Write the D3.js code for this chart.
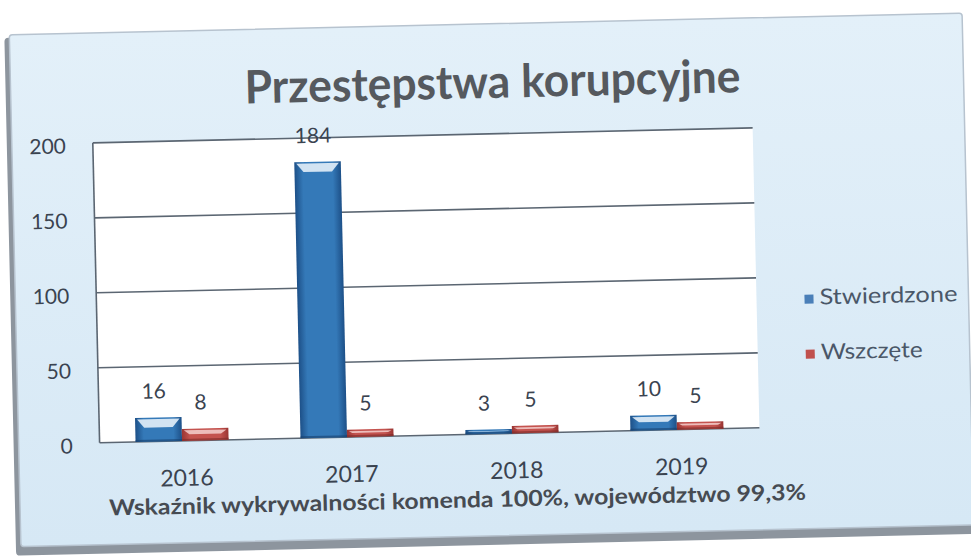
<!DOCTYPE html>
<html>
<head>
<meta charset="utf-8">
<script src="https://cdn.jsdelivr.net/npm/d3@7"></script>
<style>
  body { margin: 0; background: #ffffff; }
  text { font-family: Lato, "Noto Sans", sans-serif; }
</style>
</head>
<body>
<div id="chart"></div>
<script>
// Data
const years = ["2016", "2017", "2018", "2019"];
const stwierdzone = [16, 184, 3, 10];
const wszczete = [8, 5, 5, 5];
const seriesNames = ["Stwierdzone", "Wszczęte"];
const yTicks = [0, 50, 100, 150, 200];
const titleText = "Przestępstwa korupcyjne";
const footText = "Wskaźnik  wykrywalności  komenda 100%, województwo 99,3%";

const W = 971, H = 559;
const plot = {left: 96, right: 756, top: 134, bottom: 434};

const svg = d3.select("#chart")
  .append("svg")
    .attr("width", W)
    .attr("height", H);

const defs = svg.append("defs");

// bar gradients (dark edges, lighter middle)
function barGrad(id, edge, mid) {
  const g = defs.append("linearGradient").attr("id", id)
    .attr("x1", "0%").attr("x2", "100%").attr("y1", "0%").attr("y2", "0%");
  g.append("stop").attr("offset", "0%").attr("stop-color", edge);
  g.append("stop").attr("offset", "18%").attr("stop-color", mid);
  g.append("stop").attr("offset", "82%").attr("stop-color", mid);
  g.append("stop").attr("offset", "100%").attr("stop-color", edge);
}
barGrad("gBlue", "#1d5088", "#3479b8");
barGrad("gRed", "#9a3533", "#c4534f");

const bg = defs.append("linearGradient").attr("id", "gBack")
  .attr("x1", "0%").attr("x2", "0%").attr("y1", "0%").attr("y2", "100%");
bg.append("stop").attr("offset", "0%").attr("stop-color", "#e3f0f9");
bg.append("stop").attr("offset", "100%").attr("stop-color", "#d6e8f5");

// whole scan is slightly tilted
const g = svg.append("g").attr("transform", "rotate(-1.3, 485, 280)");

// frame with bevel shadow
g.append("rect")
  .attr("x", 10).attr("y", 27).attr("width", 958).attr("height", 518)
  .attr("rx", 4).attr("fill", "#8d959e");
g.append("rect")
  .attr("x", 15).attr("y", 24).attr("width", 953).attr("height", 512)
  .attr("rx", 3).attr("fill", "url(#gBack)")
  .attr("stroke", "#b7c3cf").attr("stroke-width", 1.5);

// title
g.append("text")
  .attr("x", 249).attr("y", 98)
  .attr("textLength", 496).attr("lengthAdjust", "spacingAndGlyphs")
  .attr("font-size", 46).attr("font-weight", "bold")
  .attr("fill", "#55595e")
  .text(titleText);

// scales
const x0 = d3.scaleBand()
  .domain(years)
  .range([plot.left, plot.right])
  .paddingInner(0.436)
  .paddingOuter(0.218);

const x1 = d3.scaleBand()
  .domain(seriesNames)
  .range([0, x0.bandwidth()]);

const y = d3.scaleLinear()
  .domain([0, 200])
  .range([plot.bottom, plot.top]);

// plot area
g.append("rect")
  .attr("x", plot.left).attr("y", plot.top)
  .attr("width", plot.right - plot.left).attr("height", plot.bottom - plot.top)
  .attr("fill", "#ffffff");

// gridlines
g.append("g")
  .selectAll("line")
  .data(yTicks)
  .join("line")
    .attr("x1", plot.left).attr("x2", plot.right)
    .attr("y1", d => y(d)).attr("y2", d => y(d))
    .attr("stroke", "#5b6672").attr("stroke-width", 1.6);

g.append("line")
  .attr("x1", plot.left).attr("x2", plot.left)
  .attr("y1", plot.top).attr("y2", plot.bottom)
  .attr("stroke", "#5b6672").attr("stroke-width", 1.6);

// y axis labels
const yAxis = g.append("g")
  .attr("transform", `translate(${plot.left - 27},0)`)
  .call(d3.axisLeft(y).tickValues(yTicks).tickSize(0).tickPadding(0));
yAxis.select(".domain").remove();
yAxis.selectAll("text")
  .attr("font-family", "Lato, 'Noto Sans', sans-serif")
  .attr("font-size", 21)
  .attr("fill", "#3a4350")
  .attr("dy", "0.45em");

// x axis labels
const xAxis = g.append("g")
  .attr("transform", `translate(4,${plot.bottom + 45})`)
  .call(d3.axisBottom(x0).tickSize(0).tickPadding(0));
xAxis.select(".domain").remove();
xAxis.selectAll("text")
  .attr("font-family", "Lato, 'Noto Sans', sans-serif")
  .attr("font-size", 23)
  .attr("fill", "#3a4350")
  .attr("dy", 0);

// bars
const rows = years.map((yr, i) => ({
  year: yr,
  vals: [
    {name: seriesNames[0], v: stwierdzone[i], fill: "url(#gBlue)", hi: "#e3eef8", bot: "#173f6c"},
    {name: seriesNames[1], v: wszczete[i], fill: "url(#gRed)", hi: "#f2c9c7", bot: "#7c2a28"}
  ]
}));

const groups = g.append("g")
  .selectAll("g")
  .data(rows)
  .join("g")
    .attr("transform", d => `translate(${x0(d.year)},0)`);

const bars = groups.selectAll("g")
  .data(d => d.vals)
  .join("g");

bars.append("rect")
  .attr("x", d => x1(d.name))
  .attr("y", d => y(d.v))
  .attr("width", x1.bandwidth())
  .attr("height", d => y(0) - y(d.v))
  .attr("fill", d => d.fill);

// bevel highlight at the top of each bar
bars.append("path")
  .attr("d", d => {
    const bx = x1(d.name), bw = x1.bandwidth();
    const top = y(d.v), h = y(0) - y(d.v);
    const b = Math.min(10, h * 0.45);
    const ins = Math.min(9, b + 2);
    return `M${bx + 2},${top + 1.5} L${bx + bw - 2},${top + 1.5} L${bx + bw - ins},${top + b} L${bx + ins},${top + b} Z`;
  })
  .attr("fill", d => d.hi)
  .attr("opacity", 0.9);

bars.append("rect")
  .attr("x", d => x1(d.name))
  .attr("y", y(0) - 2)
  .attr("width", x1.bandwidth())
  .attr("height", 2)
  .attr("fill", d => d.bot)
  .attr("opacity", 0.6);

// value labels
bars.append("text")
  .attr("x", d => x1(d.name) + x1.bandwidth() / 2 - 4)
  .attr("y", d => y(d.v) - 19)
  .attr("text-anchor", "middle")
  .attr("font-size", 21)
  .attr("fill", "#3a4350")
  .text(d => d.v);

// legend
const legendColors = ["#4a7fb8", "#c0504d"];
const legendWidths = [138, 102];
const legend = g.append("g")
  .selectAll("g")
  .data(seriesNames)
  .join("g")
    .attr("transform", (d, i) => `translate(804,${312 + i * 55})`);

legend.append("rect")
  .attr("x", 0).attr("y", -10)
  .attr("width", 9).attr("height", 9)
  .attr("fill", (d, i) => legendColors[i]);

legend.append("text")
  .attr("x", 15).attr("y", 0)
  .attr("font-size", 22)
  .attr("textLength", (d, i) => legendWidths[i])
  .attr("lengthAdjust", "spacingAndGlyphs")
  .attr("fill", "#4a5768")
  .text(d => d);

// footnote
g.append("text")
  .attr("x", 104).attr("y", 507)
  .attr("textLength", 697).attr("lengthAdjust", "spacingAndGlyphs")
  .attr("font-size", 22).attr("font-weight", "bold")
  .attr("fill", "#464b52")
  .text(footText);
</script>
</body>
</html>
